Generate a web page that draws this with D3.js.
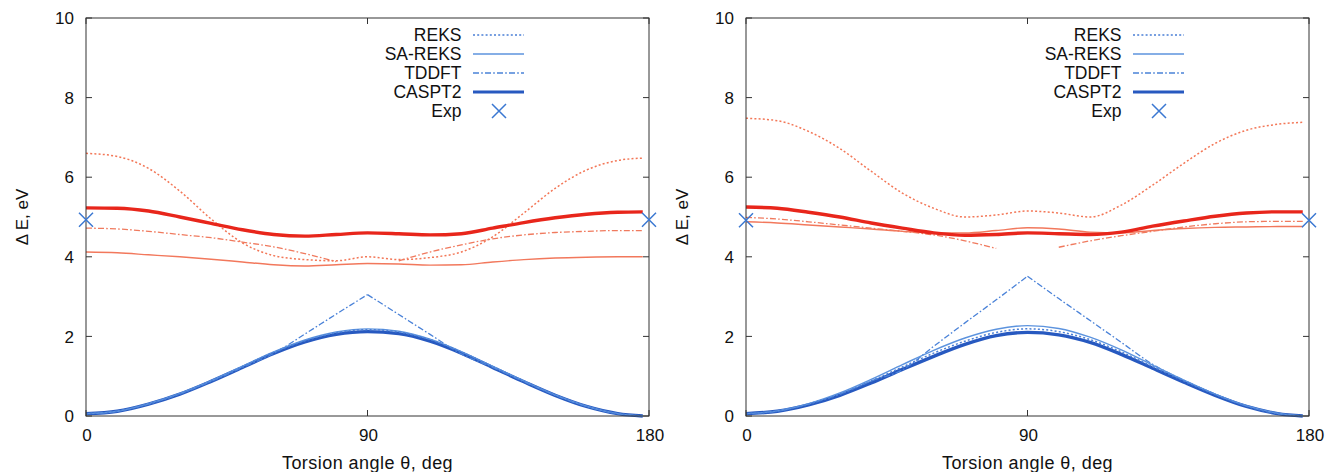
<!DOCTYPE html>
<html>
<head>
<meta charset="utf-8">
<script src="https://cdn.jsdelivr.net/npm/d3@7"></script>
<style>
  html, body { margin: 0; padding: 0; background: #ffffff; }
  svg { display: block; }
  text { font-family: "Liberation Sans", Arial, Helvetica, sans-serif; fill: #111; }
</style>
</head>
<body>
<svg id="chart" width="1328" height="472"></svg>
<script>
// Torsion angles (deg) at which each excitation energy is tabulated
const angles = [0, 10, 20, 30, 40, 50, 60, 70, 80, 90, 100, 110, 120, 130, 140, 150, 160, 170, 178];
const xTicks = [0, 90, 180];
const yTicks = [0, 2, 4, 6, 8, 10];
const legendLabels = ["REKS", "SA-REKS", "TDDFT", "CASPT2", "Exp"];
const xTitle = "Torsion angle \u03b8, deg";
const yTitle = "\u0394 E, eV";

// Left panel — upper state (S0 -> S2), eV
const leftUpperREKS   = [6.60, 6.52, 6.22, 5.65, 4.95, 4.35, 4.03, 3.93, 3.90, 4.00, 3.93, 3.98, 4.12, 4.50, 5.10, 5.72, 6.18, 6.42, 6.48];
const leftUpperSAREKS = [4.12, 4.10, 4.05, 4.00, 3.94, 3.87, 3.80, 3.77, 3.80, 3.83, 3.82, 3.79, 3.80, 3.87, 3.93, 3.97, 3.99, 4.00, 4.00];
const leftUpperTDDFT  = [4.72, 4.70, 4.64, 4.56, 4.48, 4.37, 4.25, 4.08, 3.88, null, 3.90, 4.12, 4.30, 4.45, 4.55, 4.61, 4.64, 4.66, 4.66];
const leftUpperCASPT2 = [5.23, 5.22, 5.15, 5.00, 4.84, 4.68, 4.56, 4.52, 4.56, 4.60, 4.58, 4.55, 4.58, 4.72, 4.86, 4.98, 5.07, 5.12, 5.13];
// Left panel — lower state (S0 -> S1), eV
const leftLowerREKS   = [0.06, 0.12, 0.30, 0.56, 0.88, 1.24, 1.60, 1.89, 2.09, 2.17, 2.11, 1.92, 1.61, 1.24, 0.88, 0.53, 0.25, 0.06, 0.00];
const leftLowerSAREKS = [0.06, 0.12, 0.31, 0.57, 0.89, 1.25, 1.61, 1.91, 2.11, 2.19, 2.13, 1.93, 1.62, 1.25, 0.88, 0.53, 0.25, 0.06, 0.00];
const leftLowerTDDFT  = [0.06, 0.12, 0.30, 0.55, 0.87, 1.22, 1.57, 2.06, 2.56, 3.05, 2.55, 2.05, 1.56, 1.22, 0.86, 0.52, 0.24, 0.06, 0.00];
const leftLowerCASPT2 = [0.06, 0.12, 0.30, 0.55, 0.87, 1.22, 1.57, 1.86, 2.05, 2.12, 2.07, 1.88, 1.58, 1.22, 0.86, 0.52, 0.24, 0.06, 0.00];
const leftExp = [4.93, 4.93];

// Right panel — upper state (S0 -> S2), eV
const rightUpperREKS   = [7.48, 7.42, 7.15, 6.72, 6.15, 5.60, 5.22, 5.00, 5.05, 5.15, 5.10, 5.00, 5.30, 5.80, 6.35, 6.85, 7.18, 7.33, 7.38];
const rightUpperSAREKS = [4.88, 4.85, 4.80, 4.75, 4.70, 4.64, 4.60, 4.60, 4.66, 4.73, 4.70, 4.62, 4.60, 4.66, 4.71, 4.74, 4.75, 4.76, 4.76];
const rightUpperTDDFT  = [4.99, 4.95, 4.88, 4.80, 4.72, 4.64, 4.55, 4.40, 4.21, null, 4.24, 4.40, 4.53, 4.64, 4.75, 4.83, 4.88, 4.89, 4.89];
const rightUpperCASPT2 = [5.25, 5.22, 5.12, 5.00, 4.85, 4.72, 4.60, 4.54, 4.56, 4.60, 4.58, 4.56, 4.62, 4.77, 4.90, 5.02, 5.10, 5.13, 5.13];
// Right panel — lower state (S0 -> S1), eV
const rightLowerREKS   = [0.06, 0.12, 0.30, 0.55, 0.88, 1.23, 1.58, 1.88, 2.10, 2.19, 2.12, 1.92, 1.61, 1.24, 0.88, 0.54, 0.25, 0.06, 0.00];
const rightLowerSAREKS = [0.06, 0.13, 0.31, 0.58, 0.92, 1.29, 1.65, 1.96, 2.18, 2.27, 2.20, 1.98, 1.66, 1.28, 0.90, 0.55, 0.26, 0.07, 0.00];
const rightLowerTDDFT  = [0.06, 0.12, 0.30, 0.55, 0.88, 1.16, 1.75, 2.34, 2.92, 3.51, 2.95, 2.40, 1.85, 1.30, 0.90, 0.55, 0.25, 0.06, 0.00];
const rightLowerCASPT2 = [0.06, 0.12, 0.28, 0.52, 0.83, 1.17, 1.50, 1.80, 2.02, 2.10, 2.04, 1.85, 1.55, 1.20, 0.85, 0.52, 0.24, 0.06, 0.00];
const rightExp = [4.92, 4.92];
const expAngles = [0, 180];

// TDDFT lower-state curve has a cusp at the twisted geometry
const cuspAngles = [90];

// Line styles per method
const styles = {
  REKS:   { dash: "2,2.2",         width: 1.5 },
  SAREKS: { dash: null,            width: 1.4 },
  TDDFT:  { dash: "6,2.2,1.6,2.2", width: 1.3 },
  CASPT2: { dash: null,            width: 3.4 }
};
const upperColors = { REKS: "#f37757", SAREKS: "#f2785c", TDDFT: "#f07a5e", CASPT2: "#e8261b" };
const lowerColors = { REKS: "#4a7fd6", SAREKS: "#5c93de", TDDFT: "#4a82d8", CASPT2: "#2759c0" };
const expColor = "#3b78d2";

const panels = [
  { left: 86, upper: { REKS: leftUpperREKS, SAREKS: leftUpperSAREKS, TDDFT: leftUpperTDDFT, CASPT2: leftUpperCASPT2 },
    lower: { REKS: leftLowerREKS, SAREKS: leftLowerSAREKS, TDDFT: leftLowerTDDFT, CASPT2: leftLowerCASPT2 }, exp: leftExp },
  { left: 746, upper: { REKS: rightUpperREKS, SAREKS: rightUpperSAREKS, TDDFT: rightUpperTDDFT, CASPT2: rightUpperCASPT2 },
    lower: { REKS: rightLowerREKS, SAREKS: rightLowerSAREKS, TDDFT: rightLowerTDDFT, CASPT2: rightLowerCASPT2 }, exp: rightExp }
];

const plotW = 563, plotTop = 18, plotBottom = 416;
const svg = d3.select("#chart");

// split a series into continuous pieces (at gaps and at cusps)
function pieces(values, breaks) {
  const out = [];
  let cur = [];
  values.forEach((v, i) => {
    if (v === null) { if (cur.length) out.push(cur); cur = []; return; }
    const p = { a: angles[i], v: v };
    cur.push(p);
    if (breaks && breaks.includes(angles[i])) { out.push(cur); cur = [p]; }
  });
  if (cur.length > 1) out.push(cur);
  return out.filter(s => s.length > 1);
}

panels.forEach(panel => {
  const x = d3.scaleLinear().domain([0, 180]).range([panel.left, panel.left + plotW]);
  const y = d3.scaleLinear().domain([0, 10]).range([plotBottom, plotTop]);
  const g = svg.append("g");

  const line = d3.line().x(d => x(d.a)).y(d => y(d.v)).curve(d3.curveMonotoneX);

  function drawSeries(values, color, st, breaks) {
    pieces(values, breaks).forEach(seg => {
      g.append("path")
        .attr("d", line(seg))
        .attr("fill", "none")
        .attr("stroke", color)
        .attr("stroke-width", st.width)
        .attr("stroke-dasharray", st.dash)
        .attr("stroke-linejoin", "round");
    });
  }

  // upper state curves
  ["REKS", "SAREKS", "TDDFT", "CASPT2"].forEach(k => drawSeries(panel.upper[k], upperColors[k], styles[k], null));
  // lower state curves: CASPT2 first, thin ones over it
  ["CASPT2", "TDDFT", "SAREKS", "REKS"].forEach(k => drawSeries(panel.lower[k], lowerColors[k], styles[k], k === "TDDFT" ? cuspAngles : null));

  // frame
  g.append("rect")
    .attr("x", x(0)).attr("y", y(10))
    .attr("width", x(180) - x(0)).attr("height", y(0) - y(10))
    .attr("fill", "none").attr("stroke", "#333").attr("stroke-width", 1);

  // inward ticks on all four sides
  const tl = 6;
  yTicks.forEach(t => {
    g.append("line").attr("x1", x(0)).attr("x2", x(0) + tl).attr("y1", y(t)).attr("y2", y(t)).attr("stroke", "#333");
    g.append("line").attr("x1", x(180)).attr("x2", x(180) - tl).attr("y1", y(t)).attr("y2", y(t)).attr("stroke", "#333");
    g.append("text").attr("x", x(0) - 12).attr("y", y(t)).attr("dy", "0.36em")
      .attr("text-anchor", "end").attr("font-size", 17).text(t);
  });
  xTicks.forEach(t => {
    g.append("line").attr("x1", x(t)).attr("x2", x(t)).attr("y1", y(0)).attr("y2", y(0) - tl).attr("stroke", "#333");
    g.append("line").attr("x1", x(t)).attr("x2", x(t)).attr("y1", y(10)).attr("y2", y(10) + tl).attr("stroke", "#333");
    g.append("text").attr("x", x(t) + 1).attr("y", 441)
      .attr("text-anchor", "middle").attr("font-size", 17).text(t);
  });

  // axis titles
  g.append("text").attr("x", (x(0) + x(180)) / 2).attr("y", 469)
    .attr("text-anchor", "middle").attr("font-size", 18).attr("letter-spacing", 0.45).text(xTitle);
  g.append("text")
    .attr("transform", `translate(${panel.left - 58},${(plotTop + plotBottom) / 2}) rotate(-90)`)
    .attr("text-anchor", "middle").attr("font-size", 17).text(yTitle);

  // experimental points
  const s = 7;
  expAngles.forEach((a, i) => {
    const cx = x(a), cy = y(panel.exp[i]);
    g.append("path")
      .attr("d", `M${cx - s},${cy - s}L${cx + s},${cy + s}M${cx - s},${cy + s}L${cx + s},${cy - s}`)
      .attr("stroke", expColor).attr("stroke-width", 1.5).attr("fill", "none");
  });

  // legend
  const lx = panel.left + 375.5;
  const keys = ["REKS", "SAREKS", "TDDFT", "CASPT2"];
  legendLabels.forEach((lab, i) => {
    const ly = 35 + i * 19;
    g.append("text").attr("x", lx).attr("y", ly).attr("dy", "0.36em")
      .attr("text-anchor", "end").attr("font-size", 17.5).text(lab);
    if (i < 4) {
      const st = styles[keys[i]];
      g.append("line")
        .attr("x1", panel.left + 387).attr("x2", panel.left + 438)
        .attr("y1", ly).attr("y2", ly)
        .attr("stroke", lowerColors[keys[i]])
        .attr("stroke-width", keys[i] === "CASPT2" ? 3 : st.width)
        .attr("stroke-dasharray", st.dash);
    } else {
      const cx = panel.left + 413;
      g.append("path")
        .attr("d", `M${cx - s},${ly - s}L${cx + s},${ly + s}M${cx - s},${ly + s}L${cx + s},${ly - s}`)
        .attr("stroke", expColor).attr("stroke-width", 1.5).attr("fill", "none");
    }
  });
});
</script>
</body>
</html>
